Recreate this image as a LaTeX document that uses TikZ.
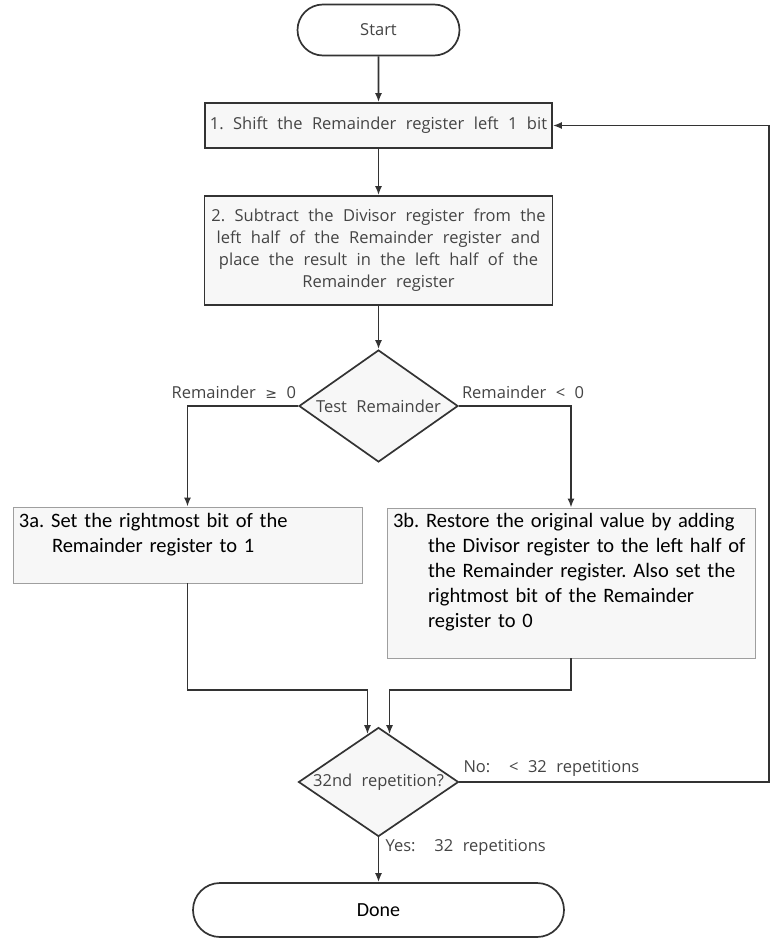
\documentclass[tikz,border=0pt]{standalone}
\usepackage{fontspec}
\setmainfont{Open Sans}
\newfontfamily\stepfont[WordSpace=2.2]{Open Sans}
\newfontfamily\calfont{Carlito}
\newfontfamily\symfont{DejaVu Sans}
\usetikzlibrary{shapes.geometric}
\usetikzlibrary{shapes.misc}
\usetikzlibrary{arrows.meta}
\tikzset{>={Latex[length=9pt,width=7pt]}}
\frenchspacing
\definecolor{linegray}{HTML}{333333}
\definecolor{textgray}{HTML}{444444}
\definecolor{boxfill}{HTML}{F7F7F7}
\tikzstyle{terminal}=[rounded rectangle,draw=linegray,line width=1.7pt,fill=white,inner sep=0pt]
\tikzstyle{stepbox}=[draw=linegray,line width=1.7pt,fill=boxfill,text=textgray,inner sep=0pt,align=center,font=\stepfont\fontsize{16.5}{22}\selectfont]
\tikzstyle{testbox}=[diamond,draw=linegray,line width=1.7pt,fill=boxfill,text=textgray,inner sep=0pt,font=\stepfont\fontsize{16.5}{18}\selectfont]
\tikzstyle{notebox}=[draw=gray!75,line width=0.8pt,fill=boxfill,text=black,inner xsep=6pt,inner ysep=0pt,align=left,font=\calfont\fontsize{20.5}{25}\selectfont]
\tikzstyle{flow}=[draw=linegray,line width=1.7pt]
\tikzstyle{branch}=[text=textgray,font=\stepfont\fontsize{16.5}{18}\selectfont]

\begin{document}
\begin{tikzpicture}[x=1pt,y=-1pt]

  \useasboundingbox (0,0) rectangle (781,942);

  % start and first steps
  \node[terminal,minimum width=162pt,minimum height=51pt,text=textgray,font=\stepfont\fontsize{16.5}{18}\selectfont]
    (start) at (378.5,30) {Start};
  \node[stepbox,minimum width=347pt,minimum height=45pt] (s1) at (378.5,125.5)
    {1. Shift the Remainder register left 1 bit};
  \node[stepbox,minimum width=348pt,minimum height=109pt] (s2) at (378.5,250.5)
    {2. Subtract the Divisor register from the\\
     left half of the Remainder register and\\
     place the result in the left half of the\\
     Remainder register};

  % test of the remainder
  \node[testbox,aspect=1.42,minimum width=159pt,minimum height=112pt] (test) at (378.5,406) {Test Remainder};

  % the two branches
  \node[notebox,text width=337pt,minimum height=76pt] (s3a) at (187.5,545)
    {3a. Set the rightmost bit of the\\
     \hspace*{33pt}Remainder register to 1\\
     \mbox{}};
  \node[notebox,text width=356pt,minimum height=150pt] (s3b) at (571,583)
    {3b. Restore the original value by adding\\
     \hspace*{35pt}the Divisor register to the left half of\\
     \hspace*{35pt}the Remainder register. Also set the\\
     \hspace*{35pt}rightmost bit of the Remainder\\
     \hspace*{35pt}register to 0\\
     \mbox{}};

  % repetition test and end
  \node[testbox,aspect=1.47,minimum width=160pt,minimum height=109pt] (test2) at (378.5,782) {32nd repetition?};
  \node[terminal,minimum width=371pt,minimum height=54pt,text=black,font=\calfont\fontsize{20}{22}\selectfont]
    (done) at (378.5,910) {Done};

  \coordinate (join) at (378.5,690);
  \coordinate (loop) at (769,782);

  % connectors
  \draw[flow,->] (start) -- (s1);
  \draw[flow,->] (s1) -- (s2);
  \draw[flow,->] (s2) -- (test);
  \draw[flow,->] (test.west) -| (s3a.north)
    node[branch,pos=0,above left,xshift=2pt,yshift=3pt] {Remainder\ {\symfont\fontsize{14}{16}\selectfont ≥} 0};
  \draw[flow,->] (test.east) -| (s3b.north)
    node[branch,pos=0,above right,xshift=-1pt,yshift=3pt] {Remainder < 0};
  \draw[flow,->] (s3a.south) |- (join -| test2.103) -- (test2.103);
  \draw[flow,->] (s3b.south) |- (join -| test2.77) -- (test2.77);
  \draw[flow,->] (test2.east) -- (loop)
    node[branch,pos=0,above right,yshift=1pt] {No:\ \ < 32 repetitions}
    |- (s1.east);
  \draw[flow,->] (test2) -- (done)
    node[branch,pos=0.22,right,xshift=3pt] {Yes:\ \ 32 repetitions};

\end{tikzpicture}
\end{document}
